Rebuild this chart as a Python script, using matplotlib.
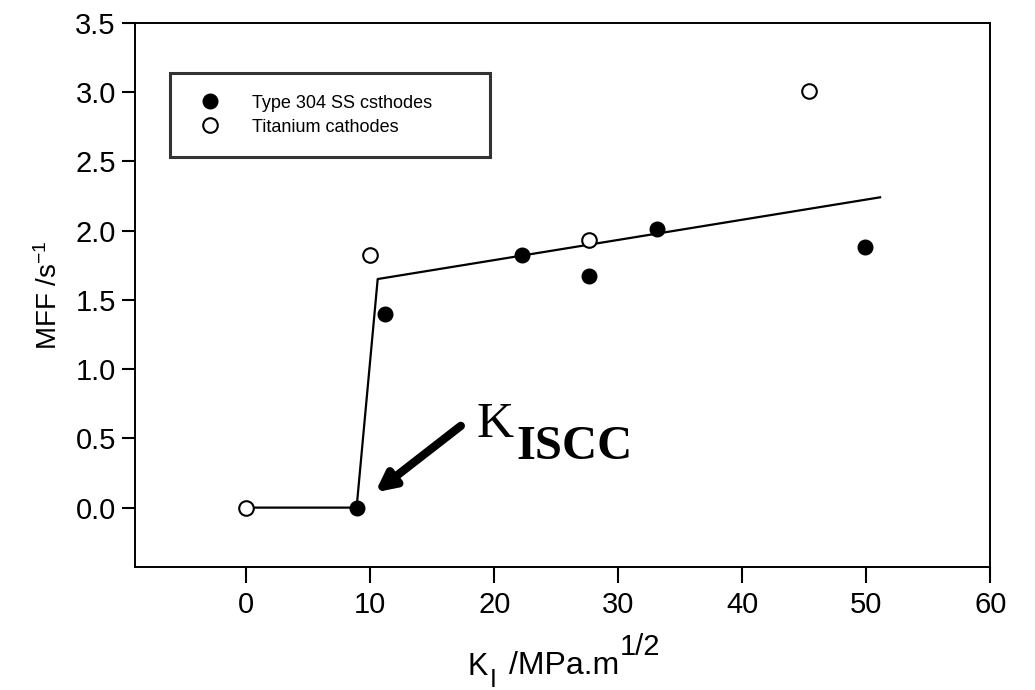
import matplotlib.pyplot as plt

plt.rcParams['font.family'] = ['Liberation Sans', 'DejaVu Sans']
plt.rcParams['mathtext.fontset'] = 'custom'
plt.rcParams['mathtext.rm'] = 'Liberation Sans'
plt.rcParams['mathtext.it'] = 'Liberation Sans:italic'

# Type 304 SS cathodes (filled)
ss_k = [8.9, 11.2, 22.2, 27.6, 33.1, 49.9]
ss_mff = [0.0, 1.40, 1.82, 1.67, 2.01, 1.88]

# Titanium cathodes (open)
ti_k = [0.0, 10.0, 27.6, 45.4]
ti_mff = [0.0, 1.82, 1.93, 3.01]

# fitted trend line
fit_k = [0.0, 8.9, 10.6, 51.1]
fit_mff = [0.0, 0.0, 1.65, 2.24]

fig = plt.figure(figsize=(10.35, 6.9), dpi=100)
ax = fig.add_axes([0.130, 0.178, 0.827, 0.789])

ax.plot(fit_k, fit_mff, color='black', lw=1.6, zorder=1)
ax.plot(ss_k, ss_mff, 'o', ms=10.5, color='black', label='Type 304 SS csthodes', zorder=3)
ax.plot(ti_k, ti_mff, 'o', ms=10.5, mfc='white', mec='black', mew=1.5,
        label='Titanium cathodes', zorder=3)

ax.set_xlim(-9, 60)
ax.set_ylim(-0.43, 3.5)
ax.set_xticks(range(0, 61, 10))
ax.set_yticks([0.0, 0.5, 1.0, 1.5, 2.0, 2.5, 3.0, 3.5])
ax.set_yticklabels(['%.1f' % v for v in ax.get_yticks()])
ax.tick_params(axis='x', direction='out', length=11.5, width=1.5, labelsize=21, pad=6)
ax.tick_params(axis='y', direction='out', length=9.5, width=1.5, labelsize=21, pad=4)
for s in ax.spines.values():
    s.set_linewidth(1.4)

ax.set_ylabel(r'MFF /s$^{-1}$', fontsize=20, labelpad=9)

# x label built from pieces so sub/superscripts keep near full size
k_txt = ax.text(0.389, -0.1985, 'K', fontsize=22, va='baseline', ha='left',
                transform=ax.transAxes)
i_txt = ax.annotate('I', xy=(1, 0), xycoords=k_txt, xytext=(1.5, -7),
                    textcoords='offset points', fontsize=18, va='bottom', ha='left')
u_txt = ax.annotate('/MPa.m', xy=(1, 0), xycoords=i_txt, xytext=(9, 8),
                    textcoords='offset points', fontsize=23, va='bottom', ha='left')
ax.annotate('1/2', xy=(1, 0), xycoords=u_txt, xytext=(0, 14),
            textcoords='offset points', fontsize=21, va='bottom', ha='left')

leg = ax.legend(loc='upper left', bbox_to_anchor=(0.042, 0.908, 0.373, 0.0),
                mode='expand', fontsize=13, frameon=True, fancybox=False,
                borderpad=1.2, handletextpad=1.3, labelspacing=0.4,
                borderaxespad=0, handlelength=2.0, markerscale=1.0)
leg.get_frame().set_edgecolor('black')
leg.get_frame().set_linewidth(2.2)

ax.annotate('', xy=(10.4, 0.11), xytext=(17.3, 0.59),
            arrowprops=dict(arrowstyle='-|>,head_length=1.1,head_width=0.55',
                            lw=6, color='black', shrinkA=0, shrinkB=0))
ax.text(18.6, 0.51, 'K', fontsize=37, family='Liberation Serif', va='baseline')
ax.text(21.8, 0.35, 'ISCC', fontsize=35, family='Liberation Serif',
        fontweight='bold', va='baseline')

fig.savefig('out.png', dpi=100)
